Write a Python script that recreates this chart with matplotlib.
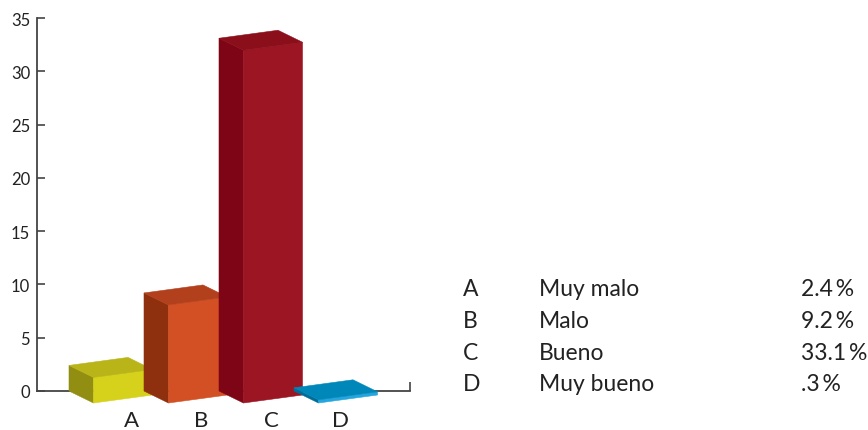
"""
Pseudo-3D bar chart (Muy malo / Malo / Bueno / Muy bueno) with a text legend on the right.
Output: out.png (868x431)
"""
import matplotlib
matplotlib.use("Agg")
import matplotlib.pyplot as plt
from matplotlib.patches import Polygon

# data
categories = ["A", "B", "C", "D"]
names = ["Muy malo", "Malo", "Bueno", "Muy bueno"]
values = [2.4, 9.2, 33.1, 0.3]
pct_labels = ["2.4\u2009%", "9.2\u2009%", "33.1\u2009%", ".3\u2009%"]
y_ticks = [0, 5, 10, 15, 20, 25, 30, 35]

# colours per bar: front, side, top
front_colors = ["#d6d11a", "#d35025", "#9c1523", "#24a5dd"]
side_colors = ["#928e12", "#8e300d", "#7e0515", "#006d96"]
top_colors = ["#b9b418", "#b2401c", "#8b0e1b", "#0087b9"]

plt.rcParams["font.family"] = ["Lato", "DejaVu Sans"]

W_PX, H_PX, DPI = 868, 431, 100
fig = plt.figure(figsize=(W_PX / DPI, H_PX / DPI), dpi=DPI)

# axes box: x 37..410 px, y 19..392 px (from top)
ax = fig.add_axes([37 / W_PX, 1 - 392 / H_PX, 373 / W_PX, 373 / H_PX])
X_MAX = 373 / 75  # one slot = 75 px
ax.set_xlim(0, X_MAX)
ax.set_ylim(0, 35)

# oblique projection vectors, in data units
px_x = 1 / 75
px_y = 35 / 373
WIDTH = (59 * px_x, 8 * px_y)        # along bar width (slightly rising)
DEPTH = (24.5 * px_x, -12 * px_y)    # towards viewer
X0 = 32 * px_x                        # back-left corner of the first bar


def add(p, *vs):
    x, y = p
    for v in vs:
        x += v[0]
        y += v[1]
    return (x, y)


for i, v in enumerate(values):
    p0 = (X0 + i, 0.0)
    h = (0.0, v)
    front = [add(p0, DEPTH), add(p0, DEPTH, WIDTH), add(p0, DEPTH, WIDTH, h), add(p0, DEPTH, h)]
    top = [add(p0, h), add(p0, h, WIDTH), add(p0, h, WIDTH, DEPTH), add(p0, h, DEPTH)]
    side = [p0, add(p0, DEPTH), add(p0, DEPTH, h), add(p0, h)]
    z = 5 + i
    for pts, c in [(side, side_colors[i]), (front, front_colors[i]), (top, top_colors[i])]:
        ax.add_patch(Polygon(pts, closed=True, facecolor=c, edgecolor=c,
                             linewidth=0.4, clip_on=False, zorder=z))

# axes styling
for s in ["top", "right"]:
    ax.spines[s].set_visible(False)
ax.spines["left"].set_bounds(0, 35)
ax.spines["bottom"].set_position(("data", 0))
ax.spines["left"].set_color("#444444")
ax.spines["bottom"].set_color("#444444")
ax.spines["left"].set_linewidth(1.3)
ax.spines["bottom"].set_linewidth(1.3)

ax.set_yticks(y_ticks)
ax.set_yticklabels([str(t) for t in y_ticks])
ax.tick_params(axis="y", direction="in", length=6, width=1.2, color="#444444",
               labelsize=12, labelcolor="#222222", pad=5)

# category labels under the bars
LABEL_X0 = (131 - 37) * px_x
LABEL_STEP = 70 * px_x
ax.set_xticks([LABEL_X0 + i * LABEL_STEP for i in range(len(categories))])
ax.set_xticklabels(categories)
ax.tick_params(axis="x", which="major", length=0, labelsize=16, labelcolor="#222222", pad=14)
ax.set_xticks([X_MAX], minor=True)
ax.tick_params(axis="x", which="minor", direction="in", length=6.5, width=1.2, color="#444444")

# text legend on the right
row_y = [290, 321, 353, 385]
for i in range(len(categories)):
    yf = 1 - row_y[i] / H_PX
    fig.text(463 / W_PX, yf, categories[i], fontsize=16.5, color="#222222", va="center", ha="left")
    fig.text(539 / W_PX, yf, names[i], fontsize=16.5, color="#222222", va="center", ha="left")
    fig.text(801 / W_PX, yf, pct_labels[i], fontsize=16.5, color="#222222", va="center", ha="left")

fig.savefig("out.png", dpi=DPI)
